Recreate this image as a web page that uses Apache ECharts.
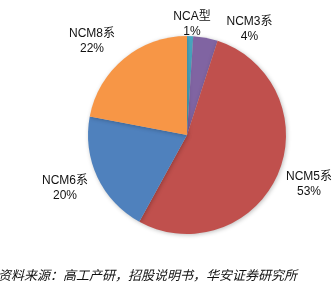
<!DOCTYPE html>
<html><head><meta charset="utf-8">
<script src="https://cdn.jsdelivr.net/npm/echarts@6/dist/echarts.min.js"></script>
<style>html,body{margin:0;padding:0;background:#fff}#c{width:334px;height:285px}</style>
</head><body><div id="c"></div>
<script>
const categories = ['NCA型', 'NCM3系', 'NCM5系', 'NCM6系', 'NCM8系'];
const values = [1, 4, 53, 20, 22];
const colors = ['#4BACC6', '#8064A2', '#C0504D', '#4F81BD', '#F79646'];
const sourceText = '资料来源：高工产研，招股说明书，华安证券研究所';

const labelPos = [[192, 24.5], [249.5, 29], [309, 184.5], [65, 188], [92, 41.5]];

const chart = echarts.init(document.getElementById('c'), null, {renderer: 'canvas'});
chart.setOption({
  animation: false,
  backgroundColor: '#fff',
  series: [{
    type: 'pie',
    center: [187, 135],
    radius: 99,
    startAngle: 90,
    clockwise: true,
    avoidLabelOverlap: false,
    data: categories.map((n, i) => ({name: n, value: values[i], itemStyle: {color: colors[i]}})),
    itemStyle: {borderWidth: 0, shadowBlur: 4, shadowColor: 'rgba(0,0,0,0.25)', shadowOffsetX: 1, shadowOffsetY: 1},
    label: {
      show: true,
      position: 'outside',
      alignTo: 'none',
      overflow: 'none',
      bleedMargin: 0,
      formatter: p => p.name + '\n' + p.value + '%',
      color: '#111',
      fontSize: 12,
      lineHeight: 15,
      fontFamily: 'Liberation Sans, Arial, Noto Sans CJK SC, sans-serif',
      align: 'center'
    },
    labelLine: {show: false},
    labelLayout: function (params) {
      const p = labelPos[params.dataIndex];
      return {x: p[0], y: p[1], align: 'center', verticalAlign: 'middle', hideOverlap: false};
    }
  }],
  graphic: [{
    type: 'text',
    left: -2,
    top: 269,
    style: {
      text: sourceText,
      fill: '#111',
      font: 'italic 13px "Noto Sans CJK SC", sans-serif'
    }
  }]
});
</script></body></html>
